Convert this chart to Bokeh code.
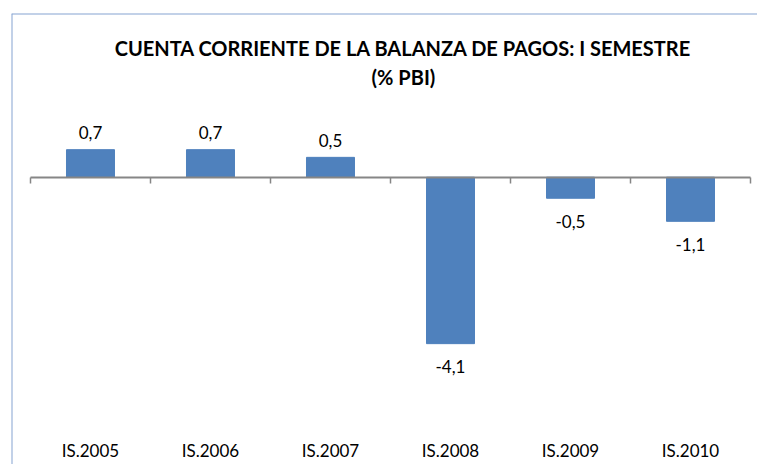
import numpy as np
from bokeh.plotting import figure
from bokeh.models import Range1d, Span, LinearAxis, FixedTicker, Label, ColumnDataSource
from bokeh.embed import file_html
from bokeh.resources import INLINE
from bokeh.core.properties import value

# ---- data ----
categories = ["IS.2005", "IS.2006", "IS.2007", "IS.2008", "IS.2009", "IS.2010"]
values = [0.68, 0.68, 0.49, -4.11, -0.52, -1.09]
title_line1 = "CUENTA CORRIENTE DE LA BALANZA DE PAGOS: I SEMESTRE"
title_line2 = "(% PBI)"

# ---- styling / layout ----
BAR_COLOR = "#4f81bd"
AXIS_COLOR = "#868686"
BORDER_COLOR = "#86a3d2"
FONT = "Lato"

W, H = 757, 464
X_START, X_END = -0.6583, 5.5583
Y_START, Y_END = -7.094, 4.042

labels = [f"{v:.1f}".replace(".", ",") for v in values]
xs = list(range(len(categories)))
bounds = [i - 0.5 for i in range(len(categories) + 1)]
offsets = [-17 if v >= 0 else 23 for v in values]

src = ColumnDataSource(dict(x=xs, top=values, label=labels, off=offsets))

p = figure(width=W, height=H, output_backend="svg", toolbar_location=None,
           x_range=Range1d(X_START, X_END), y_range=Range1d(Y_START, Y_END),
           min_border_left=11, min_border_top=13, min_border_right=0, min_border_bottom=0,
           x_axis_location=None, y_axis_location=None)
for g in p.grid:
    g.visible = False
p.outline_line_color = None
p.background_fill_color = "white"
p.border_fill_color = "white"

# chart-area border (left and top visible in the crop)
p.add_layout(Span(location=X_START, dimension="height", line_color=BORDER_COLOR, line_width=2))
p.add_layout(Span(location=Y_END, dimension="width", line_color=BORDER_COLOR, line_width=2))

p.vbar(x="x", top="top", bottom=0, width=0.4, source=src,
       fill_color=BAR_COLOR, line_color=BAR_COLOR)

# horizontal category axis at zero with boundary ticks
zero_axis = LinearAxis(fixed_location=0, ticker=FixedTicker(ticks=bounds),
                       bounds=(bounds[0], bounds[-1]),
                       axis_line_color=AXIS_COLOR, axis_line_width=2,
                       major_tick_line_color=AXIS_COLOR, major_tick_line_width=1.5,
                       major_tick_in=0, major_tick_out=6,
                       minor_tick_line_color=None,
                       major_label_overrides={b: "" for b in bounds},
                       major_label_text_font_size="0px")
p.add_layout(zero_axis, "below")

# category labels at the bottom of the chart
cat_axis = LinearAxis(fixed_location=-6.50, ticker=FixedTicker(ticks=xs),
                      major_label_overrides={i: c for i, c in zip(xs, categories)},
                      axis_line_color=None, major_tick_line_color=None,
                      minor_tick_line_color=None, major_tick_in=0, major_tick_out=0,
                      major_label_standoff=0,
                      major_label_text_font=FONT, major_label_text_font_size="17px",
                      major_label_text_color="black")
p.add_layout(cat_axis, "below")

# data labels
p.text(x="x", y="top", text="label", y_offset="off", source=src,
       text_align="center", text_baseline="middle",
       text_font=value(FONT), text_font_size="17px", text_color="black")

# title
p.add_layout(Label(x=2.608, y=3.19, text=title_line1, text_align="center",
                   text_baseline="alphabetic", text_font=FONT, text_font_size="20px",
                   text_font_style="bold", text_color="black"))
p.add_layout(Label(x=2.608, y=2.48, text=title_line2, text_align="center",
                   text_baseline="alphabetic", text_font=FONT, text_font_size="20px",
                   text_font_style="bold", text_color="black"))

open("out.html", "w").write(file_html(p, INLINE))
